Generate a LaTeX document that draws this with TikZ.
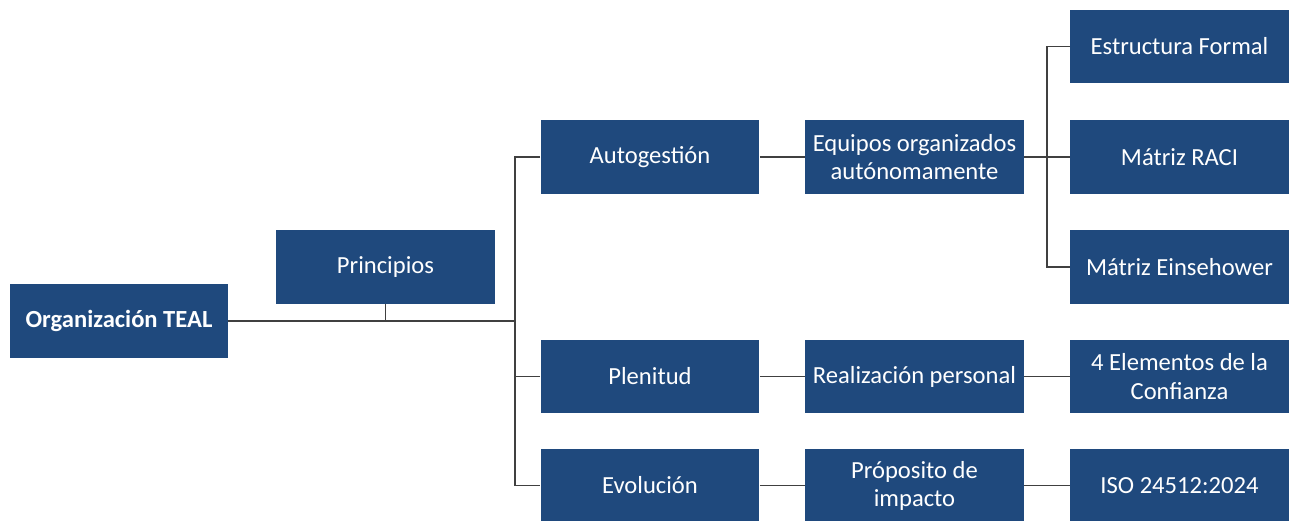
\documentclass[tikz,border=0pt]{standalone}
\usepackage{fontspec}
\setmainfont{Carlito}
\usepackage{tikz}
\usetikzlibrary{positioning}
\definecolor{azul}{RGB}{31,73,125}
\definecolor{linea}{RGB}{64,64,64}
\tikzset{
    caja/.style={fill=azul, text=white, minimum width=4.38cm, minimum height=1.48cm,
        align=center, inner sep=1pt, font=\fontsize{14}{16}\selectfont},
    rama/.style={draw=linea, line width=1.1pt}
}

\begin{document}
\begin{tikzpicture}[x=0.02cm, y=-0.02cm]
    \useasboundingbox (0, 0) rectangle (1289, 521);
    % raiz
    \node[caja, minimum width=4.36cm, font=\fontsize{14}{16}\selectfont\bfseries] (teal) at (119, 321) {Organización TEAL};
    \node[caja] (principios) at (385.5, 267) {Principios};

    % principios
    \node[caja] (autog) at (650, 157) {Autogestión};
    \node[caja] (plenitud) at (650, 376.5) {Plenitud};
    \node[caja] (evol) at (650, 485.5) {Evolución};

    % practicas
    \node[caja] (equipos) at (914.5, 157) {Equipos organizados\\autónomamente};
    \node[caja] (realiz) at (914.5, 376.5) {Realización personal};
    \node[caja] (proposito) at (914.5, 485.5) {Próposito de\\impacto};

    % herramientas
    \node[caja] (estruct) at (1179.5, 46.5) {Estructura Formal};
    \node[caja] (raci) at (1179.5, 157) {Mátriz RACI};
    \node[caja] (eisen) at (1179.5, 267) {Mátriz Einsehower};
    \node[caja] (confianza) at (1179.5, 376.5) {4 Elementos de la\\Confianza};
    \node[caja] (iso) at (1179.5, 485.5) {ISO 24512:2024};

    % conectores
    \coordinate (nudo) at (515, 321);
    \coordinate (nudo2) at (1047, 157);
    \draw[rama] (teal.east) -- (nudo);
    \draw[rama] (principios.south) -- (principios.south |- nudo);
    \draw[rama] (autog.west) -| (nudo) |- (evol.west);
    \draw[rama] (plenitud.west) -- (plenitud.west -| nudo);
    \foreach \a/\b in {autog/equipos, plenitud/realiz, evol/proposito, realiz/confianza, proposito/iso} {
        \draw[rama] (\a.east) -- (\b.west);
    }
    \draw[rama] (equipos.east) -- (nudo2);
    \draw[rama] (estruct.west) -| (nudo2) |- (eisen.west);
    \draw[rama] (nudo2) -- (raci.west);
\end{tikzpicture}
\end{document}
